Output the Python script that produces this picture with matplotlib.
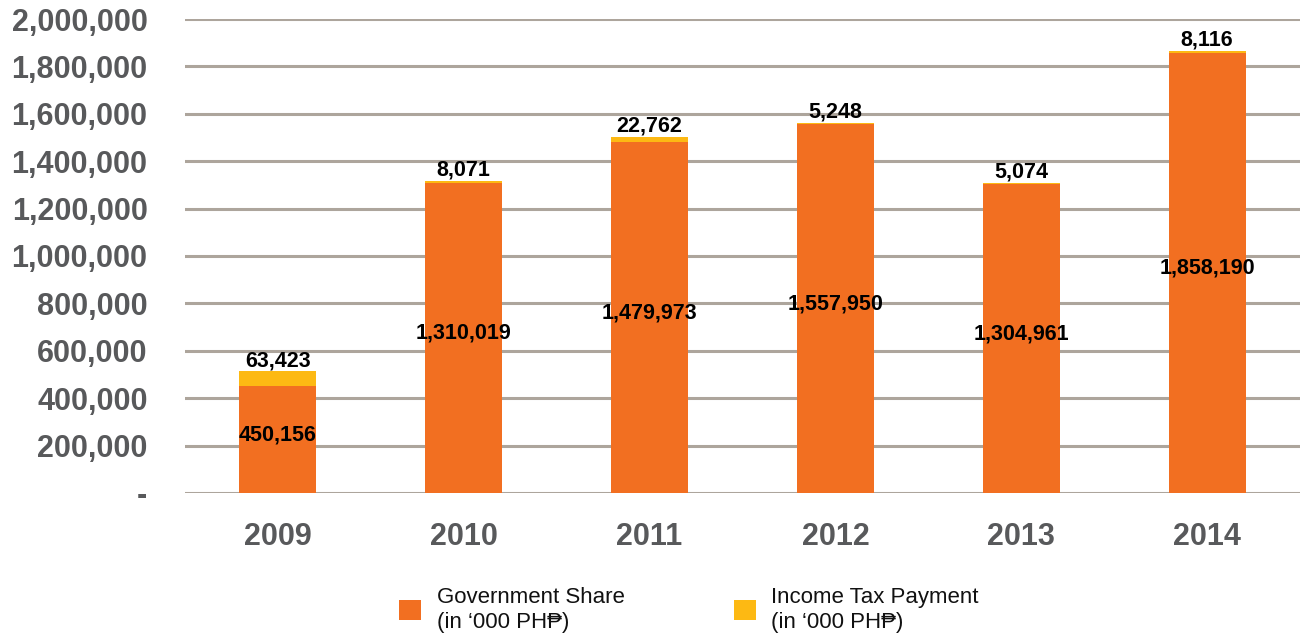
import matplotlib.pyplot as plt
from matplotlib.ticker import FuncFormatter

years = ["2009", "2010", "2011", "2012", "2013", "2014"]
gov_share = [450156, 1310019, 1479973, 1557950, 1304961, 1858190]
income_tax = [63423, 8071, 22762, 5248, 5074, 8116]
series_labels = ["Government Share\n(in \u2018000 PH\u20b1)", "Income Tax Payment\n(in \u2018000 PH\u20b1)"]

orange = "#F26F21"
yellow = "#FDB913"
grey = "#58595B"

plt.rcParams["font.family"] = ["Liberation Sans", "DejaVu Sans"]

fig = plt.figure(figsize=(13.01, 6.41), dpi=100)
ax = fig.add_axes([185 / 1301, 1 - 493 / 641, 1115 / 1301, 474 / 641])

x = range(len(years))
width = 0.415
b1 = ax.bar(x, gov_share, width, color=orange, zorder=3, label=series_labels[0])
b2 = ax.bar(x, income_tax, width, bottom=gov_share, color=yellow, zorder=3, label=series_labels[1])

for i in x:
    ax.text(i, gov_share[i] / 2 + 20000, f"{gov_share[i]:,}", ha="center", va="center",
            fontsize=15.5, fontweight="bold", color="black", zorder=4)
    ax.annotate(f"{income_tax[i]:,}", (i, gov_share[i] + income_tax[i]),
                xytext=(0, 7.5), textcoords="offset points", ha="center", va="center",
                fontsize=15.5, fontweight="bold", color="black", zorder=4)

ax.set_xlim(-0.5, 5.5)
ax.set_ylim(0, 2000000)
ax.set_yticks(range(0, 2000001, 200000))
ax.yaxis.set_major_formatter(FuncFormatter(lambda v, p: "-" if v == 0 else f"{v:,.0f}"))
ax.set_xticks(list(x))
ax.set_xticklabels(years)

ax.grid(axis="y", color="#ADA59C", linewidth=2.2, zorder=0)
ax.set_axisbelow(True)
for s in ax.spines.values():
    s.set_visible(False)
ax.tick_params(axis="both", length=0, labelsize=22, colors=grey)
ax.tick_params(axis="y", pad=27)
ax.tick_params(axis="x", pad=21)
for lab in ax.get_xticklabels() + ax.get_yticklabels():
    lab.set_fontweight("bold")

fig.legend(handles=[b1, b2], loc="center", bbox_to_anchor=(689 / 1301, 1 - 610 / 641),
           ncol=2, frameon=False, fontsize=16, handlelength=1.0, handleheight=1.0,
           handletextpad=0.7, columnspacing=4.9, labelcolor="#111111")

fig.savefig("out.png", dpi=100)
